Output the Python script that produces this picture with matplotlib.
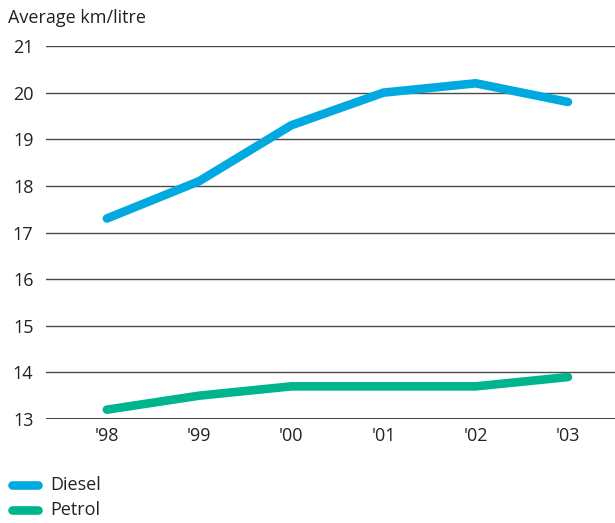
import matplotlib.pyplot as plt
from matplotlib.lines import Line2D

plt.rcParams['font.family'] = ['Open Sans', 'DejaVu Sans']

# Average fuel economy, km per litre
years = [98, 99, 100, 101, 102, 103]
year_labels = ["'98", "'99", "'00", "'01", "'02", "'03"]
diesel = [17.3, 18.1, 19.3, 20.0, 20.2, 19.8]
petrol = [13.2, 13.5, 13.7, 13.7, 13.7, 13.9]

diesel_col = '#00a9e0'
petrol_col = '#00b48d'

fig = plt.figure(figsize=(6.15, 5.23), dpi=100)
ax = fig.add_axes([46 / 615, 1 - 419 / 523, 1 - 46 / 615, 373 / 523])

for y in range(14, 22):
    ax.axhline(y, color='#4a4a4a', lw=1.0, zorder=1)
ax.axhline(13, color='#222222', lw=1.2, zorder=1)

ax.plot(years, diesel, color=diesel_col, lw=6.2, solid_capstyle='round',
        solid_joinstyle='round', zorder=3)
ax.plot(years, petrol, color=petrol_col, lw=6.2, solid_capstyle='round',
        solid_joinstyle='round', zorder=3)

ax.set_xlim(97.34, 103.51)
ax.set_ylim(13, 21)
ax.set_yticks(range(13, 22))
ax.set_xticks(years)
ax.set_xticklabels(year_labels)
ax.tick_params(axis='both', length=0, labelsize=13, colors='#222222')
ax.tick_params(axis='y', pad=9)
ax.tick_params(axis='x', pad=6)
for s in ax.spines.values():
    s.set_visible(False)

fig.text(8 / 615, 1 - 18 / 523, 'Average km/litre', fontsize=13,
         color='#222222', va='center', ha='left')

# legend drawn by hand at the bottom left
for ypx, col, name in [(485, diesel_col, 'Diesel'), (510, petrol_col, 'Petrol')]:
    yf = 1 - ypx / 523
    fig.add_artist(Line2D([12 / 615, 38 / 615], [yf, yf], color=col, lw=6.2,
                          solid_capstyle='round'))
    fig.text(50 / 615, yf, name, fontsize=13, color='#222222',
             va='center', ha='left')

fig.savefig('out.png', dpi=100)
